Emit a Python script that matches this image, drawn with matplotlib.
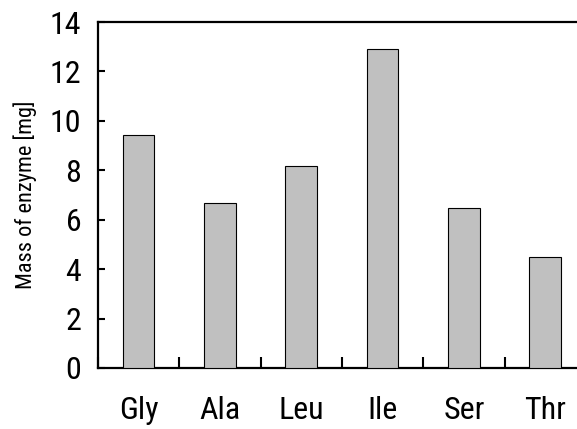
import numpy as np
import matplotlib
matplotlib.use("Agg")
import matplotlib.pyplot as plt
from matplotlib import font_manager

# data
amino = ["Gly", "Ala", "Leu", "Ile", "Ser", "Thr"]
mass = [9.43, 6.66, 8.16, 12.9, 6.47, 4.49]
yticks = [0, 2, 4, 6, 8, 10, 12, 14]

names = set(f.name for f in font_manager.fontManager.ttflist)
narrow = [n for n in ["Roboto Condensed", "Liberation Sans Narrow", "Roboto"] if n in names]
plt.rcParams['font.family'] = narrow + ['DejaVu Sans']

fig = plt.figure(figsize=(5.77, 4.29), dpi=100)
ax = fig.add_axes([0.1698, 0.1422, 0.8457, 0.8065])

x = np.arange(len(amino)) + 0.5
ax.bar(x, mass, width=0.39, color="#c0c0c0", edgecolor="black", linewidth=0.8, zorder=3)

ax.set_xlim(0, len(amino))
ax.set_ylim(0, 14)
ax.set_yticks(yticks)
ax.set_yticklabels([str(v) for v in yticks], fontsize=23)

# labels at bar centres, tick marks between categories
ax.set_xticks(x)
ax.set_xticklabels(amino, fontsize=23)
ax.set_xticks(np.arange(0, len(amino) + 1), minor=True)
ax.tick_params(axis="x", which="major", length=0, pad=20)
ax.tick_params(axis="x", which="minor", direction="in", length=8, width=1.5)
ax.tick_params(axis="y", direction="in", length=5, width=1.5, pad=12)

ax.set_ylabel("Mass of enzyme [mg]", fontsize=16, labelpad=9)

for s in ax.spines.values():
    s.set_linewidth(1.6)

fig.savefig("out.png", dpi=100)
